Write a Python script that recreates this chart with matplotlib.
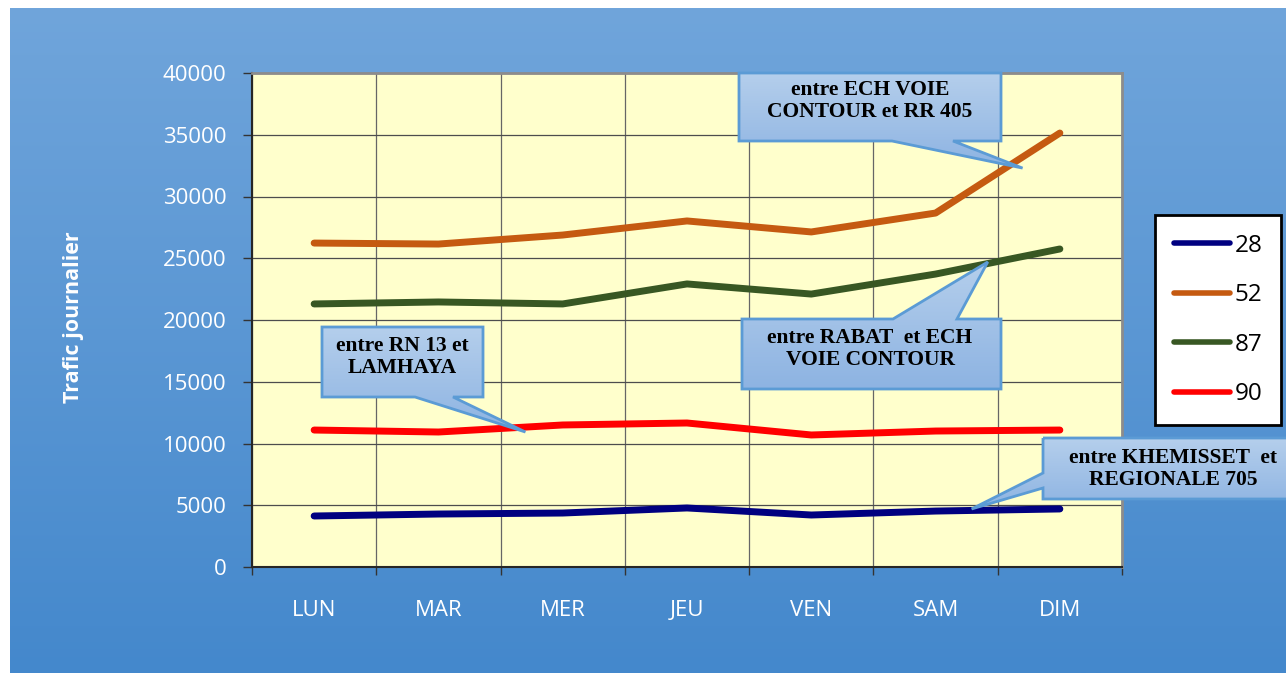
import numpy as np
import matplotlib.pyplot as plt
from matplotlib.patches import Polygon
from matplotlib.colors import LinearSegmentedColormap
from matplotlib.ticker import MultipleLocator, FixedLocator

# data
days = ['LUN', 'MAR', 'MER', 'JEU', 'VEN', 'SAM', 'DIM']
s28 = [4130, 4290, 4370, 4780, 4210, 4530, 4700]
s52 = [26230, 26150, 26880, 28020, 27130, 28660, 35140]
s87 = [21300, 21460, 21300, 22920, 22100, 23720, 25750]
s90 = [11090, 10930, 11500, 11660, 10690, 11010, 11090]
series_names = ['28', '52', '87', '90']
series_vals = [s28, s52, s87, s90]
colors = ['#000080', '#C55A11', '#385723', '#FF0000']

# callouts: text, tip (day index, value), box in pixels (x0, y0, x1, y1, top origin),
# side of the pointer and the two base points along that side, text centre
callouts = [
    ('entre ECH VOIE\nCONTOUR et RR 405', (5.70, 32300), (739, 73, 1001, 141), 'bottom', (892, 953), (870, 101)),
    ('entre RABAT  et ECH\nVOIE CONTOUR', (5.42, 24700), (742, 319, 1001, 389), 'top', (893, 957), (870, 349)),
    ('entre RN 13 et\nLAMHAYA', (1.70, 10930), (322, 327, 483, 397), 'bottom', (415, 453), (402, 357)),
    ('entre KHEMISSET  et\nREGIONALE 705', (5.29, 4700), (1043, 438, 1310, 499), 'left', (473, 488), (1173, 469)),
]

W, H = 1286, 673
sans = 'Open Sans'

fig = plt.figure(figsize=(W / 100, H / 100), dpi=100, facecolor='white')

# blue gradient panel behind everything
bg = fig.add_axes([0, 0, 1, 1], zorder=0)
bg.axis('off')
blue = LinearSegmentedColormap.from_list('bl', ['#70A5DB', '#4488CC'])
grad = np.linspace(0, 1, 256).reshape(-1, 1)
bg.imshow(grad, cmap=blue, extent=(10, W, H, 8), aspect='auto')
bg.set_xlim(0, W)
bg.set_ylim(H, 0)

# main plot
ax = fig.add_axes([252 / W, 1 - 567 / H, 870 / W, 494 / H], zorder=1)
ax.set_facecolor('#FFFFCC')
for name, vals, c in zip(series_names, series_vals, colors):
    ax.plot(range(len(days)), vals, color=c, lw=5, label=name,
            solid_capstyle='round', solid_joinstyle='round', zorder=3)

ax.set_xlim(-0.5, len(days) - 0.5)
ax.set_ylim(0, 40000)
ax.yaxis.set_major_locator(MultipleLocator(5000))
ax.xaxis.set_major_locator(FixedLocator(range(len(days))))
ax.xaxis.set_minor_locator(FixedLocator(np.arange(-0.5, len(days), 1)))
ax.set_xticklabels(days)
ax.tick_params(axis='x', which='major', length=0, pad=24, labelsize=16, labelcolor='white')
ax.tick_params(axis='x', which='minor', length=6, width=1, color='#333333', direction='out')
ax.tick_params(axis='y', length=6.5, width=1, color='#333333', direction='out',
               pad=12, labelsize=16, labelcolor='white')
for lab in ax.get_xticklabels() + ax.get_yticklabels():
    lab.set_fontfamily(sans)
ax.grid(True, axis='y', which='major', color='#4d4d4d', lw=0.9, zorder=1)
ax.grid(True, axis='x', which='minor', color='#666666', lw=0.9, zorder=1)
ax.set_axisbelow(True)
for s in ['left', 'bottom']:
    ax.spines[s].set_color('#262626')
    ax.spines[s].set_linewidth(1.5)
for s in ['top', 'right']:
    ax.spines[s].set_color('#8c8c8c')
    ax.spines[s].set_linewidth(2)

fig.text(74 / W, 1 - 317 / H, 'Trafic journalier', rotation=90, color='white',
         fontweight='bold', fontsize=15.5, fontfamily=sans, ha='center', va='center')

# legend
handles, labels = ax.get_legend_handles_labels()
leg = fig.legend(handles, labels, loc='center', bbox_to_anchor=(1218 / W, 1 - 320 / H),
                 prop={'family': sans, 'size': 17.5}, frameon=True, fancybox=False,
                 edgecolor='black', framealpha=1, labelspacing=1.05, borderpad=0.75,
                 handlelength=2.3, handletextpad=0.2)
leg.get_frame().set_linewidth(2)
for h in leg.get_lines():
    h.set_linewidth(4)

# callouts on a pixel overlay
ov = fig.add_axes([0, 0, 1, 1], zorder=2)
ov.axis('off')
ov.patch.set_alpha(0)
fill = LinearSegmentedColormap.from_list('cf', ['#B5CFEC', '#8DB3E2'])
for text, tip, box, side, base, center in callouts:
    tx, ty = ax.transData.transform(tip)
    ty = H - ty
    x0, y0, x1, y1 = box
    b1, b2 = base
    if side == 'bottom':
        pts = [(x0, y0), (x1, y0), (x1, y1), (b2, y1), (tx, ty), (b1, y1), (x0, y1)]
    elif side == 'top':
        pts = [(x0, y0), (b1, y0), (tx, ty), (b2, y0), (x1, y0), (x1, y1), (x0, y1)]
    else:
        pts = [(x0, y0), (x1, y0), (x1, y1), (x0, y1), (x0, b2), (tx, ty), (x0, b1)]
    poly = Polygon(pts, closed=True, facecolor='none', edgecolor='#5B9BD5', lw=2, zorder=3)
    ov.add_patch(poly)
    xs = [p[0] for p in pts]
    ys = [p[1] for p in pts]
    im = ov.imshow(grad, cmap=fill, extent=(min(xs), max(xs), max(ys), min(ys)),
                   aspect='auto', zorder=2)
    im.set_clip_path(poly)
    ov.text(center[0], center[1], text, ha='center', va='center', fontsize=15.5,
            fontweight='bold', fontfamily='Liberation Serif', linespacing=1.15,
            color='black', zorder=4)
ov.set_xlim(0, W)
ov.set_ylim(H, 0)

fig.savefig('out.png', dpi=100)
